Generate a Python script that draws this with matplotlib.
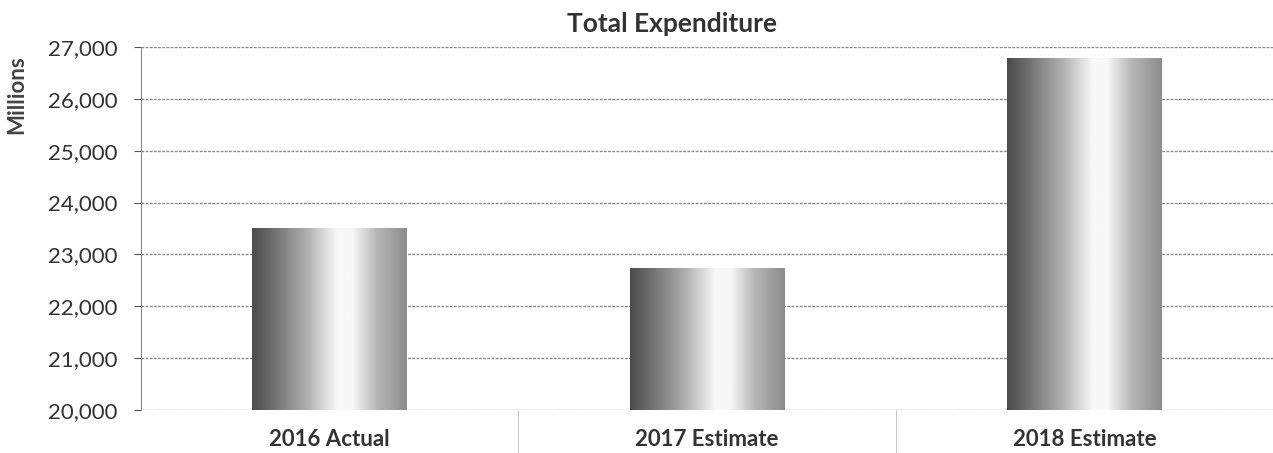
"""Total Expenditure bar chart (scanned-report style)"""
import matplotlib
matplotlib.use('Agg')
import matplotlib.pyplot as plt
import matplotlib.ticker as mticker
from matplotlib.patches import Rectangle
import numpy as np

plt.rcParams['font.family'] = ['Lato', 'DejaVu Sans']

categories = ['2016 Actual', '2017 Estimate', '2018 Estimate']
values = [23510, 22730, 26790]
yticks = [20000, 21000, 22000, 23000, 24000, 25000, 26000, 27000]

fig = plt.figure(figsize=(12.73, 4.53), dpi=100)
ax = fig.add_axes([141 / 1273, 1 - 410 / 453, 1 - 141 / 1273, (410 - 47) / 453])

x = np.arange(len(categories))
bar_w = 0.41
bars = ax.bar(x, values, bar_w, bottom=0, color='none', zorder=3)

# cylinder-like shading: dark left, white highlight, grey right
pos = np.array([0.0, 0.12, 0.35, 0.55, 0.65, 0.8, 1.0])
lev = np.array([0.30, 0.42, 0.68, 0.97, 0.97, 0.72, 0.55])
grad = np.interp(np.linspace(0, 1, 256), pos, lev)[None, :]
for b in bars:
    x0, w, h = b.get_x(), b.get_width(), b.get_height()
    im = ax.imshow(grad, cmap='gray', vmin=0, vmax=1, aspect='auto',
                   extent=[x0, x0 + w, 20000, h], zorder=3,
                   interpolation='bicubic')
    im.set_clip_path(Rectangle((x0, 20000), w, h - 20000,
                               transform=ax.transData))

ax.set_xlim(-0.5, 2.5)
ax.set_ylim(20000, 27000)
ax.set_yticks(yticks)
ax.yaxis.set_major_formatter(mticker.FuncFormatter(lambda v, _: f'{v:,.0f}'))
ax.tick_params(axis='y', labelsize=16, colors='#555', labelcolor='#333',
               length=5, width=0.8, pad=12)
ax.set_xticks(x)
ax.set_xticklabels(categories, fontsize=16, fontweight='bold', color='#333')
ax.tick_params(axis='x', length=0, pad=14)
ax.set_xticks([0.5, 1.5], minor=True)
ax.tick_params(axis='x', which='minor', length=40, width=0.6, color='#bbb')

ax.grid(True, axis='y', color='#8a8a8a', lw=1.0, ls=(0, (2, 1)), zorder=1)
for s in ['top', 'right', 'bottom']:
    ax.spines[s].set_visible(False)
ax.spines['left'].set_color('#888')
ax.spines['left'].set_linestyle((0, (2, 1)))

fig.text(672 / 1273, 1 - 24 / 453, 'Total Expenditure', ha='center',
         va='center', fontsize=19, fontweight='bold', color='#333')
fig.text(17 / 1273, 1 - 95 / 453, 'Millions', rotation=90, ha='center',
         va='center', fontsize=16, fontweight='bold', color='#444')

fig.savefig('out.png', dpi=100)
